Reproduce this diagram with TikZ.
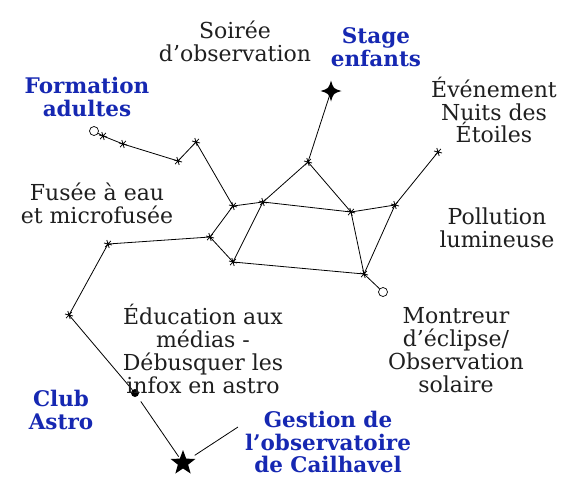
\documentclass[tikz,border=0pt]{standalone}
\usepackage{fontspec}
\setmainfont{DejaVu Serif}
\usetikzlibrary{shapes.geometric}
\definecolor{tblue}{RGB}{22,40,178}
\begin{document}
\begin{tikzpicture}[x=1pt,y=-1pt,
  lbl/.style={align=center,font=\fontsize{22}{22.8}\selectfont,inner sep=0pt,text=black!88},
  blbl/.style={align=center,font=\fontsize{21.5}{22.8}\selectfont\bfseries,inner sep=0pt,text=tblue},
  link/.style={draw=black,line width=0.8pt},
  opn/.style={circle,draw,line width=0.7pt,minimum size=9pt,inner sep=0pt,fill=white},
  spark/.pic={\draw[line width=0.8pt] (-4,-1)--(4,1) (-1.2,-4)--(1.2,4) (-2.8,3)--(2.8,-3);}
]
\useasboundingbox[fill=white] (0,0) rectangle (575,490);

% points
\coordinate (a1) at (103,136);
\coordinate (a2) at (123,144);
\coordinate (a3) at (178,161);
\coordinate (a4) at (196,142);
\coordinate (b1) at (233,206);
\coordinate (b2) at (263,202);
\coordinate (b3) at (308,162);
\coordinate (b4) at (351,212);
\coordinate (b5) at (395,205);
\coordinate (b6) at (438,152);
\coordinate (b7) at (364,274);
\coordinate (c1) at (210,237);
\coordinate (c2) at (233,262);
\coordinate (d1) at (108,244);
\coordinate (d2) at (69,315);
\coordinate (endg) at (238,427);

\node[opn] (form) at (94,131) {};
\node[opn] (mont) at (383,292) {};
\node[circle,fill,minimum size=8pt,inner sep=0pt] (club) at (135,393) {};
\node[star,star points=5,star point ratio=2.4,fill,minimum size=26pt,inner sep=0pt] (gest) at (183,463) {};
\node[inner sep=0pt,minimum size=20pt] (stage) at (331,91) {};
\fill[shift={(stage.center)}] (0,-10.5) .. controls (2.4,-2.4) .. (10.5,0) .. controls (2.4,2.4) .. (0,10.5) .. controls (-2.4,2.4) .. (-10.5,0) .. controls (-2.4,-2.4) .. (0,-10.5) -- cycle;

% connectors
\draw[link] (form) -- (a1) -- (a2) -- (a3) -- (a4) -- (b1) -- (b2) -- (b3) -- (stage.center);
\draw[link] (b3) -- (b4);
\draw[link] (b2) -- (b4) -- (b5) -- (b6);
\draw[link] (b4) -- (b7) -- (b5);
\draw[link] (b7) -- (mont);
\draw[link] (b1) -- (c1) -- (c2) -- (b2);
\draw[link] (c2) -- (b7);
\draw[link] (c1) -- (d1) -- (d2) -- (club);
\draw[link,shorten <=6pt,shorten >=2pt] (club) -- (gest);
\draw[link,shorten <=14pt] (gest.center) -- (endg);

% markers
\foreach \p in {a1,a2,a3,a4,b1,b2,b3,b4,b5,b6,b7,c1,c2,d1,d2}
  \pic at (\p) {spark};

% labels
\node[lbl] (soiree) at (235,41) {Soirée\\d’observation};
\node[blbl] (stagelbl) at (376,47) {Stage\\enfants};
\node[blbl] (formlbl) at (87,97) {Formation\\adultes};
\node[lbl] (nuits) at (494,110) {Événement\\Nuits des\\Étoiles};
\node[lbl] (fusee) at (97,203) {Fusée à eau\\et microfusée};
\node[lbl] (pollu) at (497,228) {Pollution\\lumineuse};
\node[lbl] (educ) at (203,349) {Éducation aux\\médias -\\Débusquer les\\infox en astro};
\node[lbl] (montlbl) at (456,350) {Montreur\\d’éclipse/\\Observation\\solaire};
\node[blbl] (clublbl) at (61,410) {Club\\Astro};
\node[blbl] (gestlbl) at (328,442) {Gestion de\\l’observatoire\\de Cailhavel};
\end{tikzpicture}
\end{document}
